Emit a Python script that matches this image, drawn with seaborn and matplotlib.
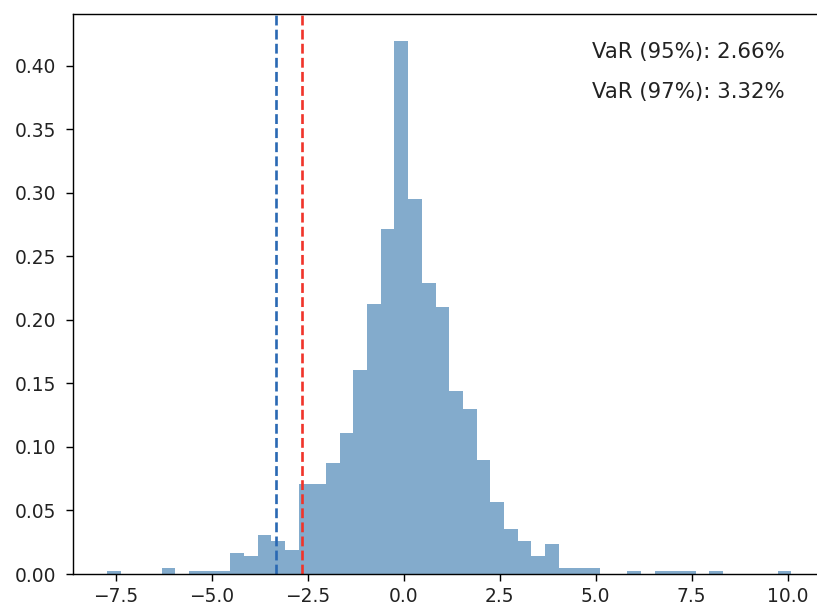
import numpy as np
import pandas as pd
import matplotlib
matplotlib.use("Agg")
import matplotlib.pyplot as plt
import seaborn as sns

# ---- data ----
bin_low = -7.73
bin_high = 10.10
n_bins = 50
bin_counts = [1, 0, 0, 0, 2, 0, 1, 1, 1, 7,
              6, 13, 11, 8, 30, 30, 37, 47, 68, 90,
              115, 178, 125, 97, 89, 61, 55, 38, 24, 15,
              11, 6, 10, 2, 2, 2, 0, 0, 1, 0,
              1, 1, 1, 0, 1, 0, 0, 0, 0, 1]
var_95 = 2.66
var_97 = 3.32
var_labels = ["VaR (95%): 2.66%", "VaR (97%): 3.32%"]

edges = np.linspace(bin_low, bin_high, n_bins + 1)
centers = (edges[:-1] + edges[1:]) / 2
df = pd.DataFrame({"ret": centers, "n": bin_counts})

DPI = 127.5
W, H = 817, 608
fig = plt.figure(figsize=(W / DPI, H / DPI), dpi=DPI)
ax = fig.add_axes([72.7 / W, 34 / H, 753 / W, 560 / H])

sns.histplot(data=df, x="ret", weights="n", bins=n_bins,
             binrange=(bin_low, bin_high), stat="density",
             color="#4682b4", alpha=0.67, edgecolor="none", linewidth=0, ax=ax)

ax.axvline(-var_95, color="#f0342a", linestyle="--", linewidth=1.5)
ax.axvline(-var_97, color="#2a69b3", linestyle="--", linewidth=1.5)

ax.text(0.69, 0.932, var_labels[0], transform=ax.transAxes, va="center", ha="left",
        fontsize=12, color="#222222")
ax.text(0.69, 0.861, var_labels[1], transform=ax.transAxes, va="center", ha="left",
        fontsize=12, color="#222222")

ax.tick_params(axis="both", length=4, labelsize=10.5, labelcolor="#222222")
ax.tick_params(axis="y", pad=5.5)
ax.tick_params(axis="x", pad=3.5)
ax.set_xlabel("")
ax.set_ylabel("")

fig.savefig("out.png", dpi=DPI)
